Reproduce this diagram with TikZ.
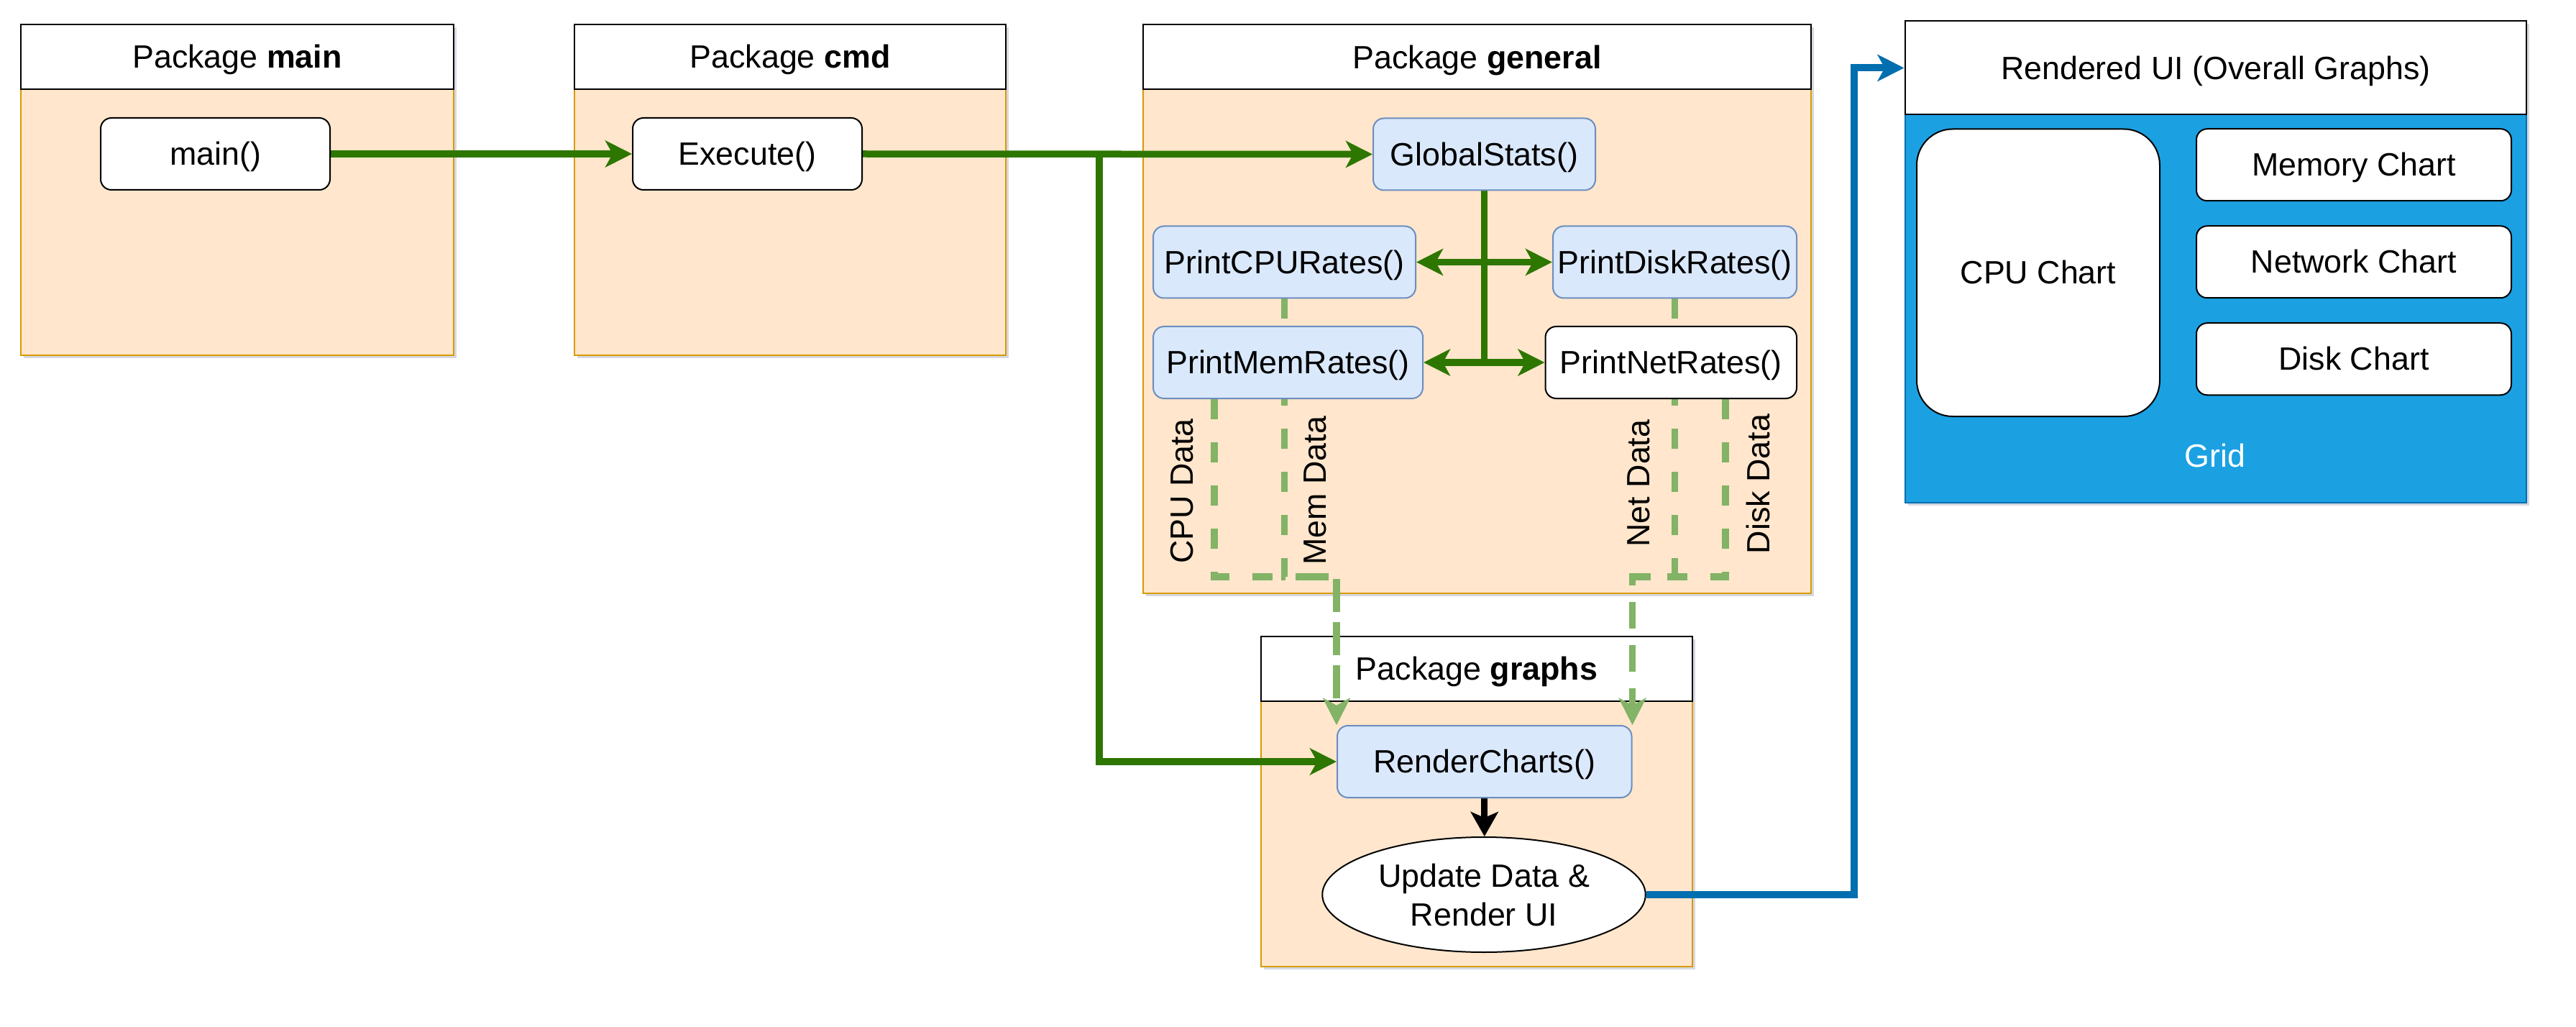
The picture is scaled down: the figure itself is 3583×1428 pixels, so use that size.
\documentclass[tikz,border=0pt]{standalone}
\usepackage{fontspec}
\setmainfont{Liberation Sans}
\usetikzlibrary{arrows.meta,shapes.geometric}
\definecolor{orfill}{HTML}{FFE6CC}
\definecolor{ordraw}{HTML}{D79B00}
\definecolor{bfill}{HTML}{DAE8FC}
\definecolor{bdraw}{HTML}{6C8EBF}
\definecolor{gdark}{HTML}{2D7600}
\definecolor{glight}{HTML}{82B366}
\definecolor{uiblue}{HTML}{1BA1E2}
\definecolor{uidraw}{HTML}{006EAF}
\definecolor{shadowc}{HTML}{8A8FA8}
\pgfdeclarelayer{back}
\pgfdeclarelayer{mid}
\pgfsetlayers{back,mid,main}
\tikzset{
  basefont/.style={font=\fontsize{22.4}{27}\selectfont, text=black, align=center},
  txt/.style={basefont, text height=21.2pt, text depth=5.68pt},
  hdr/.style={txt, draw=black, fill=white, line width=1pt, inner sep=0pt},
  bodybox/.style={draw=ordraw, fill=orfill, line width=1pt, inner sep=0pt},
  uibody/.style={draw=uidraw, fill=uiblue, line width=1pt, inner sep=0pt},
  cshadow/.style={fill=shadowc, opacity=0.35},
  fbox/.style={txt, draw=bdraw, fill=bfill, rounded corners=7.5pt, line width=1pt, minimum height=50pt, inner sep=0pt},
  wbox/.style={txt, draw=black, fill=white, rounded corners=7.5pt, line width=1pt, minimum height=50pt, inner sep=0pt},
  tipg/.style={-{Stealth[length=18.5pt, width=18.5pt, inset=5pt]}},
  gline/.style={draw=gdark, line width=4.75pt},
  garrow/.style={gline, tipg},
  dline/.style={draw=glight, line width=4.6pt, dash pattern=on 14pt off 16pt, tipg},
  karrow/.style={draw=black, line width=4.5pt, -{Stealth[length=17pt, width=19pt, inset=4pt]}},
  barrow/.style={draw=uidraw, line width=5pt, tipg},
  lbl/.style={basefont, rotate=90, inner sep=0pt}
}
\begin{document}
\begin{tikzpicture}[x=0.5pt,y=-0.5pt]
\useasboundingbox (0,0) rectangle (3583,1428);

% ---------- containers ----------
\begin{pgfonlayer}{back}
  % shadows
  \fill[cshadow] (33,38) rectangle (635,498);
  \fill[cshadow] (803,38) rectangle (1403,498);
  \fill[cshadow] (1594,38.5) rectangle (2523,828.5);
  \fill[cshadow] (1758,889) rectangle (2358,1348);
  \fill[cshadow] (2653.5,33.5) rectangle (3518,703);
  % package main
  \node[bodybox, minimum width=301pt, minimum height=185pt] (mainB) at (330,309) {};
  \node[hdr, minimum width=301pt, minimum height=45pt] (mainH) at (330,79) {Package \textbf{main}};
  % package cmd
  \node[bodybox, minimum width=300pt, minimum height=185pt] (cmdB) at (1099,309) {};
  \node[hdr, minimum width=300pt, minimum height=45pt] (cmdH) at (1099,79) {Package \textbf{cmd}};
  % package general
  \node[bodybox, minimum width=464.5pt, minimum height=350pt] (genB) at (2054.5,474.5) {};
  \node[hdr, minimum width=464.5pt, minimum height=45pt] (genH) at (2054.5,79.5) {Package \textbf{general}};
  % package graphs
  \node[bodybox, minimum width=300pt, minimum height=184.5pt] (graB) at (2054,1159.5) {};
  \node[hdr, minimum width=300pt, minimum height=45pt] (graH) at (2054,930) {Package \textbf{graphs}};
  % rendered UI
  \node[uibody, minimum width=432.25pt, minimum height=269.75pt] (uiB) at (3081.75,429.25) {};
  \node[hdr, minimum width=432.25pt, minimum height=65pt] (uiH) at (3081.75,94.5) {Rendered UI (Overall Graphs)};
\end{pgfonlayer}

% ---------- function nodes ----------
\node[wbox, minimum width=159.5pt] (mainf) at (299.5,214) {main()};
\node[wbox, minimum width=159.5pt] (exec) at (1039.5,214) {Execute()};
\node[fbox, minimum width=154.5pt] (gs) at (2064.5,214.5) {GlobalStats()};
\node[fbox, minimum width=182.5pt] (cpu) at (1786.5,364.5) {PrintCPURates()};
\node[fbox, minimum width=169.5pt] (disk) at (2329.5,364.5) {PrintDiskRates()};
\node[fbox, minimum width=187.5pt] (mem) at (1791.5,504) {PrintMemRates()};
\node[wbox, minimum width=174.75pt] (net) at (2324.25,504) {PrintNetRates()};
\node[fbox, minimum width=204.75pt] (rc) at (2064.75,1059) {RenderCharts()};
\node[basefont, ellipse, draw=black, fill=white, line width=1pt, minimum width=224.75pt, minimum height=80pt, inner sep=0pt] (upd) at (2064,1244) {Update Data \&\\Render UI};

% UI charts
\node[txt, draw=black, fill=white, rounded corners=25pt, line width=1pt, minimum width=169pt, minimum height=199.75pt, inner sep=0pt] (cpuc) at (2835,379.25) {CPU Chart};
\node[wbox, minimum width=219pt] (memc) at (3274,229.25) {Memory Chart};
\node[wbox, minimum width=219pt] (netc) at (3274,364.25) {Network Chart};
\node[wbox, minimum width=219pt] (diskc) at (3274,499.25) {Disk Chart};
\node[txt, text=white] (grid) at (3081,634) {Grid};

% data labels
\node[lbl] (lcpu) at (1644,683) {CPU Data};
\node[lbl] (lmem) at (1829,682) {Mem Data};
\node[lbl] (lnet) at (2279,672) {Net Data};
\node[lbl] (ldisk) at (2445,673) {Disk Data};

% ---------- connectors ----------
\begin{pgfonlayer}{mid}
  \coordinate (br) at (1529,214);
  \draw[garrow] (mainf.east) -- (exec.west);
  \draw[garrow] (exec.east) -- (gs.west);
  \draw[garrow] (br) |- (rc.west);
  % GlobalStats fan-out
  \coordinate (j1) at (gs.south |- cpu.east);
  \coordinate (j2) at (gs.south |- mem.east);
  \draw[gline] (gs.south) -- ([yshift=-2.4pt]j2);
  \draw[garrow] (j1) -- (cpu.east);
  \draw[garrow] (j1) -- (disk.west);
  \draw[garrow] (j2) -- (mem.east);
  \draw[garrow] (j2) -- (net.west);
  % data flows
  \path (rc.north west) ++(0,-206) coordinate (jl);
  \path (rc.north east) ++(0,-206) coordinate (jr);
  \draw[dline] (cpu.south) |- (jl) -- (rc.north west);
  \draw[dline] ([xshift=43pt]mem.south west) |- (jl) -- (rc.north west);
  \draw[dline] (disk.south) |- (jr) -- (rc.north east);
  \draw[dline] ([xshift=-50pt]net.south east) |- (jr) -- (rc.north east);
  % render
  \draw[karrow] (rc.south) -- (rc.south |- upd.north);
  \draw[barrow] (upd.east) -- ++(289,0) |- (uiH.west);
\end{pgfonlayer}
\end{tikzpicture}
\end{document}
